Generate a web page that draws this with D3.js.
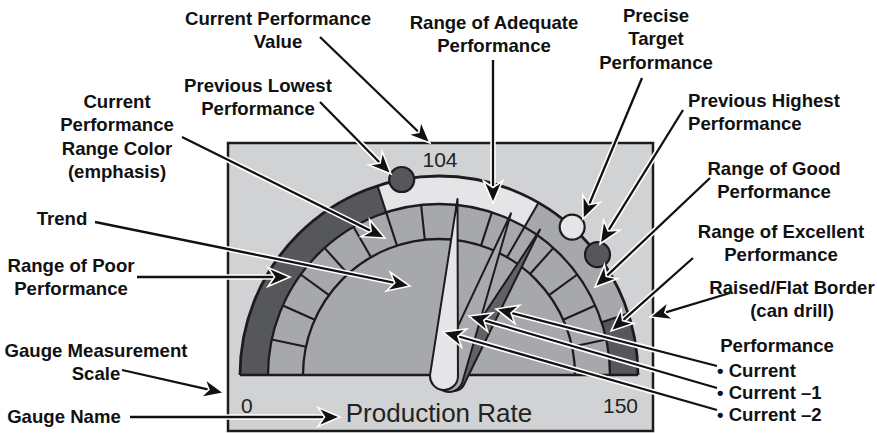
<!DOCTYPE html>
<html><head><meta charset="utf-8">
<script src="https://cdn.jsdelivr.net/npm/d3@7"></script>
<style>body{margin:0;background:#fff}svg{display:block}</style>
</head><body>
<script>
// ---------------- DATA ----------------
const scaleMin = 0, scaleMax = 150;
const scaleLabels = ["0", "150"];
const rangeNames = ["Poor", "Adequate", "Good", "Excellent"];
const rangeBounds = [0, 60, 100, 135, 150];
const segmentTicks = [10, 20, 30, 40, 50, 60, 70, 80, 90, 100, 110, 120, 130, 140];
const needleNames = ["Current \u22122", "Current \u22121", "Current"];
const needleValues = [104, 95, 80];
const markerNames = ["Previous Lowest", "Precise Target", "Previous Highest"];
const markerValues = [66, 110, 119];
const currentValueLabel = "104";
const gaugeName = "Production Rate";

// ---------------- LAYOUT / STYLE ----------------
const W = 877, H = 433;
const cx = 439, cy = 375, R_OUT = 199, R_MID = 171, R_IN = 136, R_NEEDLE = 177, R_MARK = 199;
const C = {bg:"#d1d2d4", dark:"#55575a", light:"#e4e5e7", mid:"#a6a8ab", ink:"#1c1c1e", n2:"#606265"};
const rangeColors = {Poor:C.dark, Adequate:C.light, Good:C.mid, Excellent:C.dark};
const markerColors = {"Previous Lowest":C.dark, "Precise Target":C.light, "Previous Highest":C.dark};
const needleStyle = {
  "Current \u22122": {fill:C.n2, base:[15, 5], w:11},
  "Current \u22121": {fill:"#a8aaad", base:[10, 3], w:14},
  "Current": {fill:C.light, base:[5, 1], w:14}
};
const FONT = "'Liberation Sans', Arial, Helvetica, sans-serif";

const svg = d3.select("body").append("svg").attr("width", W).attr("height", H);

// box
svg.append("rect").attr("x", 228).attr("y", 143).attr("width", 425).attr("height", 288)
  .attr("fill", C.bg).attr("stroke", C.ink).attr("stroke-width", 2.5);

const angle = d3.scaleLinear().domain([scaleMin, scaleMax]).range([-Math.PI / 2, Math.PI / 2]);
const pt = (v, r) => [r * Math.sin(angle(v)), -r * Math.cos(angle(v))];

const g = svg.append("g").attr("transform", `translate(${cx},${cy})`);

// inner disc + segmented band
g.append("path").attr("d", d3.arc()({innerRadius:0, outerRadius:R_IN, startAngle:angle(scaleMin), endAngle:angle(scaleMax)}))
  .attr("fill", C.mid);
g.append("path").attr("d", d3.arc()({innerRadius:R_IN, outerRadius:R_MID, startAngle:angle(scaleMin), endAngle:angle(scaleMax)}))
  .attr("fill", C.mid);

// range bands
g.selectAll("path.range").data(rangeNames).join("path").attr("class", "range")
  .attr("d", (d, i) => d3.arc()({innerRadius:R_MID, outerRadius:R_OUT, startAngle:angle(rangeBounds[i]), endAngle:angle(rangeBounds[i + 1])}))
  .attr("fill", d => rangeColors[d]);

// segment ticks
g.selectAll("line.tick").data(segmentTicks).join("line").attr("class", "tick")
  .attr("x1", d => pt(d, R_IN)[0]).attr("y1", d => pt(d, R_IN)[1])
  .attr("x2", d => pt(d, R_MID)[0]).attr("y2", d => pt(d, R_MID)[1])
  .attr("stroke", C.ink).attr("stroke-width", 2.1);
// range boundaries in outer band
g.selectAll("line.bound").data(rangeBounds.slice(1, -1)).join("line").attr("class", "bound")
  .attr("x1", d => pt(d, R_MID)[0]).attr("y1", d => pt(d, R_MID)[1])
  .attr("x2", d => pt(d, R_OUT)[0]).attr("y2", d => pt(d, R_OUT)[1])
  .attr("stroke", C.ink).attr("stroke-width", 2.1);

// outlines
[R_IN, R_MID, R_OUT].forEach((r, i) => {
  g.append("path").attr("d", d3.arc()({innerRadius:r, outerRadius:r, startAngle:angle(scaleMin), endAngle:angle(scaleMax)}))
    .attr("fill", "none").attr("stroke", C.ink).attr("stroke-width", i === 2 ? 2.8 : 2.3);
});
g.append("line").attr("x1", -R_OUT).attr("x2", R_OUT).attr("y1", 0).attr("y2", 0)
  .attr("stroke", C.ink).attr("stroke-width", 2.6);

// needles
function needlePath(tip, base, w) {
  const dx = tip[0] - base[0], dy = tip[1] - base[1], L = Math.hypot(dx, dy);
  const nx = -dy / L, ny = dx / L;
  const a = [base[0] + nx * w, base[1] + ny * w], b = [base[0] - nx * w, base[1] - ny * w];
  return `M${tip[0]},${tip[1]}L${a[0]},${a[1]}A${w},${w} 0 0 1 ${b[0]},${b[1]}Z`;
}
g.selectAll("path.needle").data(needleNames).join("path").attr("class", "needle")
  .attr("d", (d, i) => needlePath(pt(needleValues[i], R_NEEDLE), needleStyle[d].base, needleStyle[d].w))
  .attr("fill", d => needleStyle[d].fill).attr("stroke", C.ink).attr("stroke-width", 2).attr("stroke-linejoin", "round");

// markers
g.selectAll("circle.marker").data(markerNames).join("circle").attr("class", "marker")
  .attr("cx", (d, i) => pt(markerValues[i], R_MARK)[0]).attr("cy", (d, i) => pt(markerValues[i], R_MARK)[1])
  .attr("r", 12.5).attr("fill", d => markerColors[d]).attr("stroke", C.ink).attr("stroke-width", 2.2);

// gauge texts
svg.append("text").attr("x", cx + 1).attr("y", 167).attr("text-anchor", "middle").attr("font-family", FONT)
  .attr("font-size", 21).attr("fill", "#222").text(currentValueLabel);
svg.append("text").attr("x", 241).attr("y", 413).attr("font-family", FONT).attr("font-size", 21).attr("fill", "#222").text(scaleLabels[0]);
svg.append("text").attr("x", 638).attr("y", 413).attr("text-anchor", "end").attr("font-family", FONT).attr("font-size", 21).attr("fill", "#222").text(scaleLabels[1]);
svg.append("text").attr("x", cx).attr("y", 422).attr("text-anchor", "middle").attr("font-family", FONT).attr("font-size", 26).attr("fill", "#222").text(gaugeName);

// ---------------- ANNOTATIONS ----------------
const notes = [
  {lines:["Current Performance", "Value"], x:278, y:25, from:[320, 37], to:[430, 143]},
  {lines:["Previous Lowest", "Performance"], x:258, y:92, from:[320, 102], to:[391, 174]},
  {lines:["Current", "Performance", "Range Color", "(emphasis)"], x:117, y:108, from:[182, 137], to:[385, 238]},
  {lines:["Trend"], x:62, y:225, from:[95, 222], to:[410, 286]},
  {lines:["Range of Poor", "Performance"], x:71, y:272, from:[137, 277], to:[290, 277]},
  {lines:["Gauge Measurement", "Scale"], x:96, y:357, from:[122, 370], to:[224, 393]},
  {lines:["Gauge Name"], x:64, y:423, from:[130, 417], to:[340, 417]},
  {lines:["Range of Adequate", "Performance"], x:494, y:29, from:[493, 60], to:[493, 203]},
  {lines:["Precise", "Target", "Performance"], x:656, y:22, from:[642, 78], to:[583, 219]},
  {lines:["Previous Highest", "Performance"], x:688, y:107, anchor:"start", from:[683, 110], to:[600, 244]},
  {lines:["Range of Good", "Performance"], x:774, y:175, from:[710, 178], to:[595, 287]},
  {lines:["Range of Excellent", "Performance"], x:781, y:238, from:[693, 258], to:[611, 331]},
  {lines:["Raised/Flat Border", "(can drill)"], x:792, y:294, from:[730, 293], to:[650, 317]},
  {lines:["Performance"], x:777, y:352},
  {lines:["\u2022 Current"], x:717, y:377, anchor:"start", from:[717, 366], to:[496, 309]},
  {lines:["\u2022 Current \u20131"], x:717, y:399, anchor:"start", from:[717, 388], to:[469, 316]},
  {lines:["\u2022 Current \u20132"], x:717, y:421, anchor:"start", from:[717, 410], to:[443, 332]}
];

const ag = svg.append("g");
function arrow(from, to) {
  const dx = to[0] - from[0], dy = to[1] - from[1], L = Math.hypot(dx, dy);
  const ux = dx / L, uy = dy / L, nx = -uy, ny = ux;
  const hl = 22, hw = 9.5, notch = 6.5;
  const bx = to[0] - ux * hl, by = to[1] - uy * hl;
  const p1 = [bx + nx * hw, by + ny * hw], p2 = [bx - nx * hw, by - ny * hw];
  const pn = [to[0] - ux * (hl - notch), to[1] - uy * (hl - notch)];
  ag.append("line").attr("x1", from[0]).attr("y1", from[1]).attr("x2", pn[0]).attr("y2", pn[1])
    .attr("stroke", "#fff").attr("stroke-width", 5.5);
  ag.append("line").attr("x1", from[0]).attr("y1", from[1]).attr("x2", pn[0]).attr("y2", pn[1])
    .attr("stroke", "#111").attr("stroke-width", 2.3);
  ag.append("path").attr("d", `M${to[0]},${to[1]}L${p1[0]},${p1[1]}L${pn[0]},${pn[1]}L${p2[0]},${p2[1]}Z`)
    .attr("fill", "#111").attr("stroke", "#fff").attr("stroke-width", 1.6).attr("stroke-linejoin", "miter");
}
notes.forEach(n => { if (n.from) arrow(n.from, n.to); });

notes.forEach(n => {
  const t = svg.append("text").attr("font-family", FONT).attr("font-weight", "bold").attr("font-size", 18.6)
    .attr("fill", "#111").attr("text-anchor", n.anchor || "middle");
  n.lines.forEach((l, i) => t.append("tspan").attr("x", n.x).attr("y", n.y + i * 23.3).text(l));
});
</script>
</body></html>
